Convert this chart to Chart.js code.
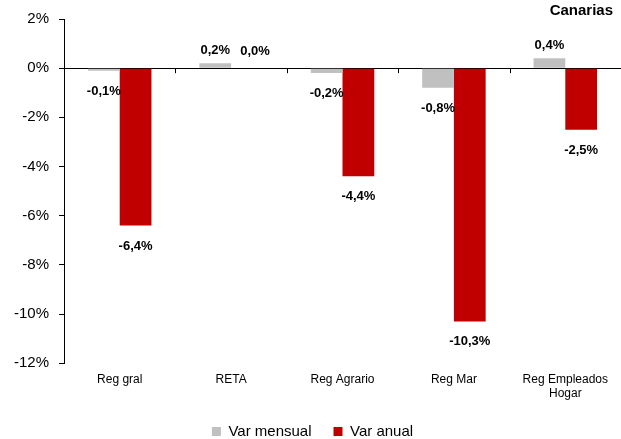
<!DOCTYPE html>
<html>
<head>
<meta charset="utf-8">
<script src="https://cdn.jsdelivr.net/npm/chart.js@4"></script>
<style>
  html, body { margin: 0; padding: 0; background: #fff; }
  #wrap { width: 621px; height: 439px; }
</style>
</head>
<body>
<div id="wrap"><canvas id="chart" width="621" height="439"></canvas></div>
<script>
const categories = ["Reg gral", "RETA", "Reg Agrario", "Reg Mar", ["Reg Empleados", "Hogar"]];
const varMensual = [-0.1, 0.2, -0.2, -0.8, 0.4];
const varAnual = [-6.4, 0.0, -4.4, -10.3, -2.5];
const yTicks = [2, 0, -2, -4, -6, -8, -10, -12];
const titleText = "Canarias";

function fmt(v) {
  return v.toFixed(1).replace(".", ",") + "%";
}

// labels on bars, title, and the small ticks on the zero line
const extras = {
  id: "extras",
  afterDatasetsDraw(chart) {
    const ctx = chart.ctx;
    ctx.save();
    ctx.fillStyle = "#000";
    ctx.font = "bold 13px Arial, 'Liberation Sans', sans-serif";
    ctx.textAlign = "center";
    chart.data.datasets.forEach((ds, di) => {
      chart.getDatasetMeta(di).data.forEach((bar, i) => {
        const v = ds.data[i];
        if (v > 0) {
          ctx.textBaseline = "bottom";
          ctx.fillText(fmt(v), bar.x, bar.y - 6);
        } else if (v === 0) {
          ctx.textBaseline = "bottom";
          ctx.fillText(fmt(v), bar.x + 8, bar.y - 10);
        } else {
          ctx.textBaseline = "top";
          ctx.fillText(fmt(v), bar.x, bar.y + 14);
        }
      });
    });

    // tick marks along the zero line
    const x = chart.scales.x;
    const y0 = chart.scales.y.getPixelForValue(0);
    ctx.strokeStyle = "#000";
    ctx.lineWidth = 1;
    ctx.beginPath();
    for (let i = 1; i < categories.length; i++) {
      const px = Math.round((x.getPixelForValue(i - 1) + x.getPixelForValue(i)) / 2) + 0.5;
      ctx.moveTo(px, y0);
      ctx.lineTo(px, y0 + 5);
    }
    ctx.stroke();

    ctx.font = "bold 15px Arial, 'Liberation Sans', sans-serif";
    ctx.textAlign = "right";
    ctx.textBaseline = "middle";
    ctx.fillText(titleText, chart.width - 8, 11);
    ctx.restore();
  }
};

new Chart(document.getElementById("chart"), {
  type: "bar",
  data: {
    labels: categories,
    datasets: [
      { label: "Var mensual", data: varMensual, backgroundColor: "#c0c0c0",
        barPercentage: 1, categoryPercentage: 0.57 },
      { label: "Var anual", data: varAnual, backgroundColor: "#c00000",
        barPercentage: 1, categoryPercentage: 0.57 }
    ]
  },
  options: {
    responsive: false,
    animation: false,
    layout: { padding: { top: 16, right: 0, left: 4, bottom: -10 } },
    plugins: {
      legend: {
        position: "bottom",
        labels: {
          boxWidth: 9, boxHeight: 9, padding: 22,
          color: "#000",
          font: { family: "Arial, 'Liberation Sans', sans-serif", size: 15 }
        }
      },
      tooltip: { enabled: false }
    },
    scales: {
      x: {
        grid: { display: false },
        border: { display: false },
        ticks: {
          color: "#000", padding: 1,
          font: { family: "Arial, 'Liberation Sans', sans-serif", size: 12 },
          maxRotation: 0
        }
      },
      y: {
        min: -12, max: 2,
        afterBuildTicks(scale) { scale.ticks = yTicks.map(v => ({ value: v })); },
        border: { display: true, color: "#000", width: 1 },
        grid: {
          drawOnChartArea: true,
          color: c => (c.tick && c.tick.value === 0 ? "#000" : "transparent"),
          tickColor: "#000",
          tickLength: 5
        },
        ticks: {
          color: "#000", padding: 10,
          font: { family: "Arial, 'Liberation Sans', sans-serif", size: 15 },
          callback: v => v + "%"
        }
      }
    }
  },
  plugins: [extras]
});
</script>
</body>
</html>
